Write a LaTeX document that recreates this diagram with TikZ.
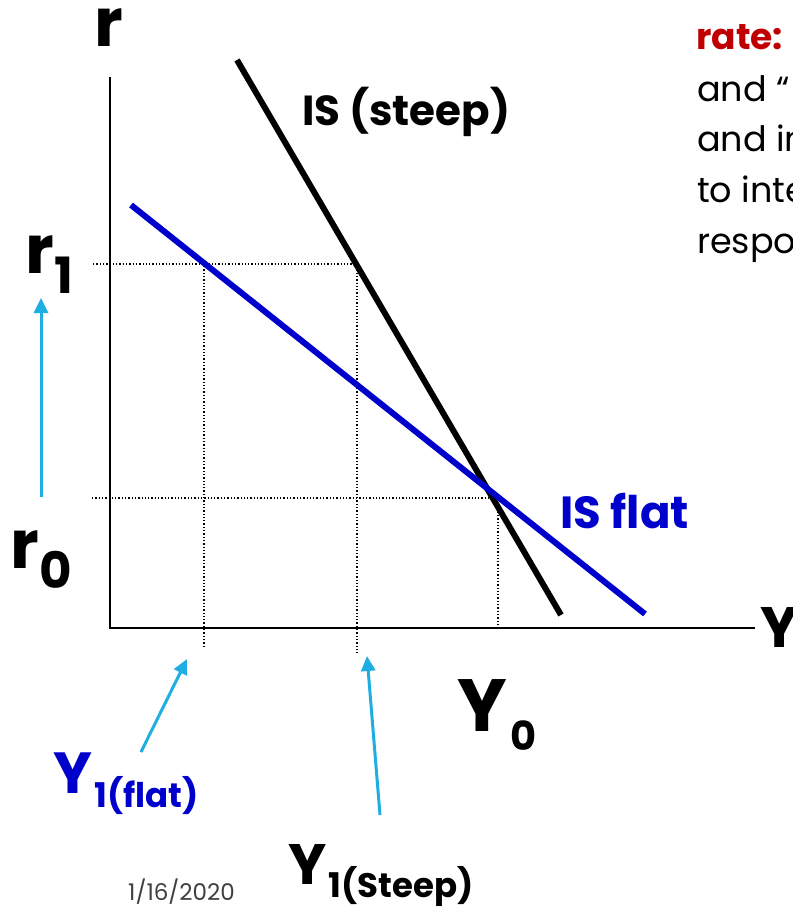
\documentclass[tikz,border=0pt]{standalone}
\usepackage{fontspec}
\setmainfont{Poppins}
\usetikzlibrary{arrows.meta}
\definecolor{isblue}{HTML}{0000CC}
\definecolor{cyanarr}{HTML}{1FAEE3}
\definecolor{darkred}{HTML}{C00000}
\definecolor{dategray}{HTML}{404040}
\begin{document}
\begin{tikzpicture}[x=1pt,y=-1pt,
  lab/.style={inner sep=0pt, anchor=base west, font={\bfseries\fontsize{#1}{#1}\selectfont}},
  txt/.style={inner sep=0pt, anchor=base west, font={\fontsize{#1}{#1}\selectfont}},
  axisline/.style={line width=2pt, black},
  isline/.style={line width=6pt},
  guide/.style={line width=1.3pt, dotted, black},
  carrow/.style={line width=3pt, cyanarr, -{Triangle[length=15pt,width=14pt]}}]
\useasboundingbox (0,0) rectangle (792,909);
\clip (0,0) rectangle (792,909);
% axes
\coordinate (O) at (110,628);
\coordinate (ytop) at (110,77);
\coordinate (xend) at (755,628);
\draw[axisline] (ytop) -- (O) -- (xend);
% guides
\coordinate (r1l) at (93,264);   \coordinate (r1r) at (356,264);
\coordinate (r0l) at (92,498);   \coordinate (r0r) at (495,498);
\coordinate (vf1) at (204,266);  \coordinate (vf2) at (204,647);
\coordinate (vs1) at (357,266);  \coordinate (vs2) at (357,653);
\coordinate (v01) at (498,505);  \coordinate (v02) at (498,626);
\draw[guide] (r1l) -- (r1r);
\draw[guide] (r0l) -- (r0r);
\draw[guide] (vf1) -- (vf2);
\draw[guide] (vs1) -- (vs2);
\draw[guide] (v01) -- (v02);
% IS curves
\coordinate (st1) at (237,60);  \coordinate (st2) at (561,615);
\coordinate (fl1) at (131,205); \coordinate (fl2) at (645,614);
\draw[isline, black] (st1) -- (st2);
\draw[isline, isblue] (fl1) -- (fl2);
% labels
\node[lab=67] (rax) at (94,47) {r};
\node[lab=67] (r1m) at (25,273) {r};
\node[lab=50] (r1s) at ([shift={(0,20)}]r1m.base east) {1};
\node[lab=67] (r0m) at (10,568) {r};
\node[lab=50] (r0s) at ([shift={(0,20)}]r0m.base east) {0};
\node[lab=57] (Yax) at (760,647) {Y};
\node[lab=74] (Y0m) at (457,731) {Y};
\node[lab=40] (Y0s) at ([shift={(3,19)}]Y0m.base east) {0};
\node[lab=58, isblue] (Y1fm) at (53,793) {Y};
\node[lab=34, isblue] (Y1fs) at ([shift={(2,14)}]Y1fm.base east) {1(flat)};
\node[lab=57] (Y1sm) at (288,884) {Y};
\node[lab=34] (Y1ss) at ([shift={(2,13)}]Y1sm.base east) {1(Steep)};
\node[lab=42] (ISs) at (302,126) {IS (steep)};
\node[lab=45, isblue] (ISf) at (560,528) {IS flat};
\node[txt=23, dategray] (date) at (128,900) {1/16/2020};
% clipped text at top right
\node[lab=36, darkred] (t0) at (696,50) {rate:};
\node[txt=35] (t1) at (697,102) {and “};
\node[txt=35] (t2) at (697,152) {and in};
\node[txt=35] (t3) at (697,203) {to inte};
\node[txt=35] (t4) at (697,253) {respo};
% cyan arrows
\coordinate (ar0) at (41,497);  \coordinate (ar1) at (41,298);
\coordinate (af0) at (141,752); \coordinate (af1) at (187,659);
\coordinate (as0) at (380,815); \coordinate (as1) at (367,656);
\draw[carrow] (ar0) -- (ar1);
\draw[carrow] (af0) -- (af1);
\draw[carrow] (as0) -- (as1);
\end{tikzpicture}
\end{document}
